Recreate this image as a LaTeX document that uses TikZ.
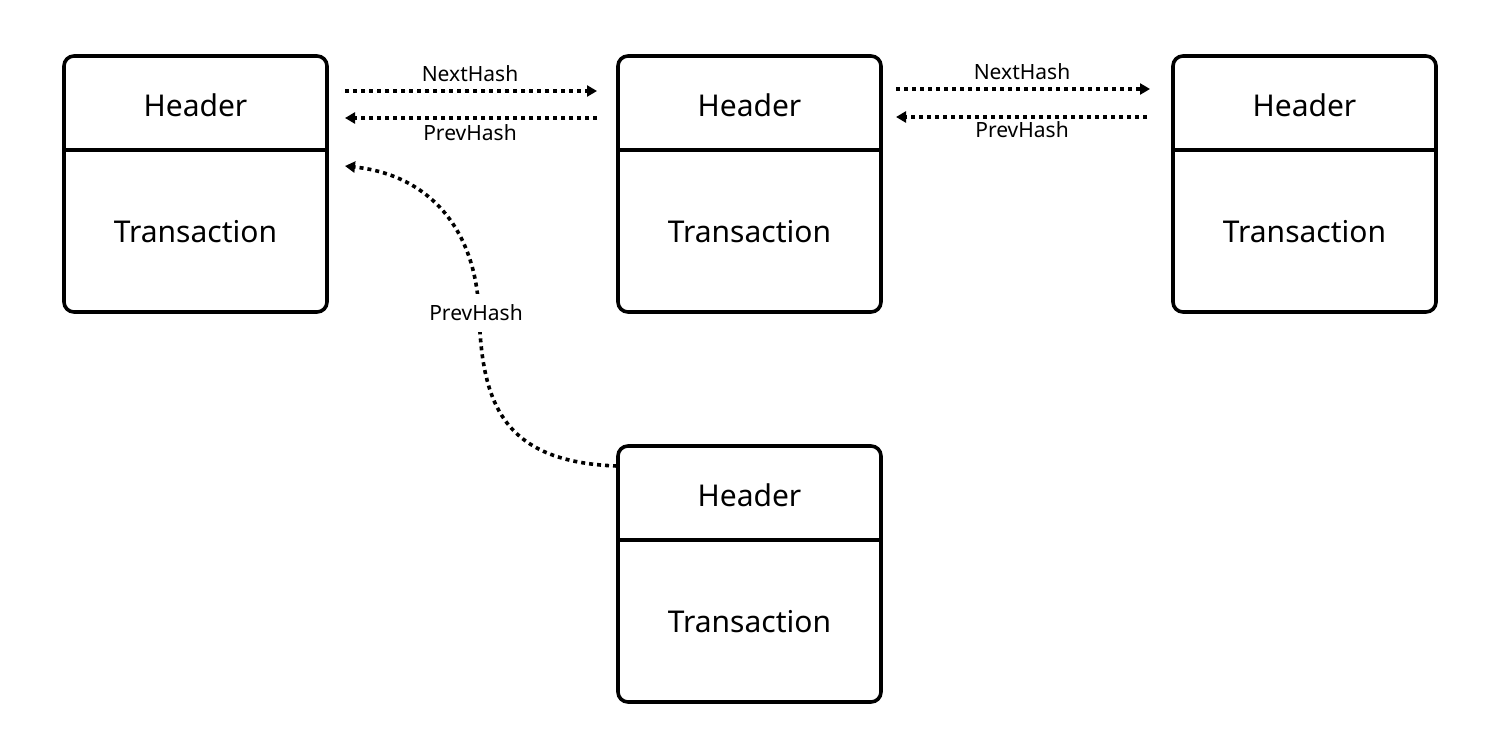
\documentclass[tikz,border=0pt]{standalone}
\usepackage{fontspec}
\setmainfont{Noto Sans}
\usetikzlibrary{arrows.meta}
\begin{document}
\begin{tikzpicture}[x=1pt,y=-1pt,
  blk/.style={draw,line width=3.6pt,rounded corners=10pt},
  sep/.style={line width=3.6pt},
  big/.style={font=\fontsize{30}{34}\selectfont},
  lbl/.style={font=\fontsize{21}{24}\selectfont},
  link/.style={line width=3.6pt,dash pattern=on 4pt off 4pt,-{Triangle[length=10pt,width=11pt]}}
]
\useasboundingbox (0,0) rectangle (1504,752);
% blocks
\foreach \n/\x/\y in {a/64/56,b/618/56,c/1173/56,d/618/446}{
  \draw[blk] (\x,\y) rectangle ++(263,256);
  \draw[sep] (\x,\y+94) -- ++(263,0);
  \node[big] (\n h) at (\x+131.5,\y+49) {Header};
  \node[big] (\n t) at (\x+131.5,\y+176) {Transaction};
  \coordinate (\n) at (\x,\y);
}
\coordinate (a1s) at (345,91); \coordinate (a1e) at (597,91);
\coordinate (a2s) at (597,118); \coordinate (a2e) at (345,118);
\coordinate (b1s) at (896,89); \coordinate (b1e) at (1150,89);
\coordinate (b2s) at (1147,117); \coordinate (b2e) at (896,117);
\draw[link] (a1s) -- (a1e);
\draw[link] (a2s) -- (a2e);
\draw[link] (b1s) -- (b1e);
\draw[link] (b2s) -- (b2e);
\node[lbl] (l1) at (470,74) {NextHash};
\node[lbl] (l2) at (470,133) {PrevHash};
\node[lbl] (l3) at (1022,72) {NextHash};
\node[lbl] (l4) at (1022,130) {PrevHash};
% curved
\coordinate (cs) at (617,466);
\coordinate (ce) at (345,166);
\draw[link] (cs) .. controls (500,462) and (482,400) .. (479,313) .. controls (476,230) and (430,175) .. (ce);
\node[lbl,fill=white,inner xsep=4pt,inner ysep=11pt] (l5) at (476,313) {PrevHash};
\end{tikzpicture}
\end{document}
